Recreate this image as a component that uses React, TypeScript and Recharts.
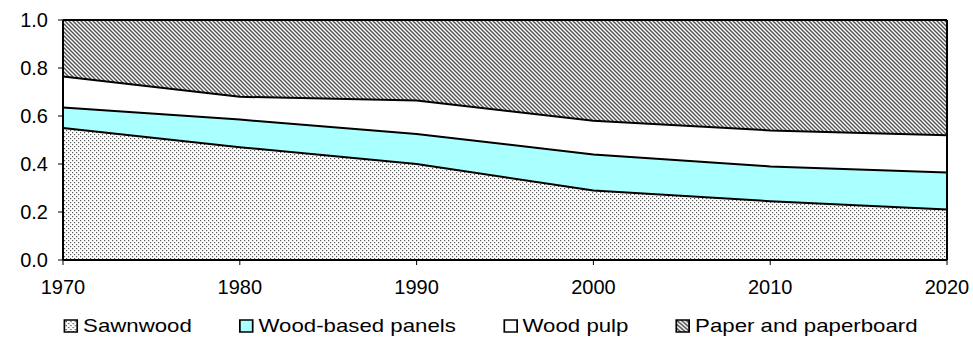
import React from "react"
import {
  AreaChart,
  Area,
  XAxis,
  YAxis,
  Legend,
  ReferenceLine,
} from "recharts"

// Share of each product in total output (stacked to 1.0)
const years = [1970, 1980, 1990, 2000, 2010, 2020]
const sawnwood = [0.55, 0.47, 0.4, 0.29, 0.245, 0.21]
const woodPanels = [0.085, 0.115, 0.125, 0.15, 0.145, 0.155]
const woodPulp = [0.13, 0.095, 0.14, 0.14, 0.15, 0.155]
const paper = [0.235, 0.32, 0.335, 0.42, 0.46, 0.48]

const xTicks = [1970, 1980, 1990, 2000, 2010, 2020]
const yTicks = [0, 0.2, 0.4, 0.6, 0.8, 1.0]

const FONT = '"Liberation Sans", Arial, sans-serif'

const SERIES = [
  { key: "sawnwood", name: "Sawnwood", fill: "url(#dots)" },
  { key: "panels", name: "Wood-based panels", fill: "#aaffff" },
  { key: "pulp", name: "Wood pulp", fill: "#ffffff" },
  { key: "paper", name: "Paper and paperboard", fill: "url(#hatch)" },
]

const data = years.map((y, i) => ({
  year: y,
  sawnwood: sawnwood[i],
  panels: woodPanels[i],
  pulp: woodPulp[i],
  paper: paper[i],
}))

function LegendRow() {
  return (
    <div
      style={{
        transform: "scaleX(1.17)",
        transformOrigin: "0 50%",
        display: "flex",
        alignItems: "center",
        paddingLeft: 54,
        fontFamily: FONT,
        fontSize: 19,
        color: "#000",
        height: 24,
      }}
    >
      {SERIES.map((s) => (
        <div key={s.key} style={{ display: "flex", alignItems: "center", marginRight: 40 }}>
          <svg width={13} height={14} style={{ marginRight: 4, display: "block" }}>
            <rect x={1} y={1} width={11} height={12} fill={s.fill} stroke="#000" strokeWidth={1.5} />
          </svg>
          <span>{s.name}</span>
        </div>
      ))}
    </div>
  )
}

export default function App() {
  return (
    <div style={{ position: "absolute", left: 0, top: 0, width: 973, height: 340, background: "#fff" }}>
      <AreaChart
        width={973}
        height={340}
        data={data}
        margin={{ top: 20, right: 26, bottom: 8, left: 0 }}
      >
        <defs>
          <pattern id="dots" width={4} height={4} patternUnits="userSpaceOnUse">
            <rect width={4} height={4} fill="#fff" />
            <rect x={0} y={0} width={1.2} height={1.2} fill="#555" />
            <rect x={2} y={2} width={1.2} height={1.2} fill="#555" />
          </pattern>
          <pattern id="hatch" width={4} height={4} patternUnits="userSpaceOnUse">
            <rect width={4} height={4} fill="#fff" />
            <path d="M-1,-1 L5,5 M-1,3 L1,5 M3,-1 L5,1" stroke="#555" strokeWidth={1.5} />
          </pattern>
        </defs>

        <XAxis
          dataKey="year"
          type="number"
          domain={[1970, 2020]}
          ticks={xTicks}
          height={32}
          tickSize={5}
          tickMargin={15}
          axisLine={{ stroke: "#000", strokeWidth: 2 }}
          tickLine={{ stroke: "#000" }}
          tick={{ fontSize: 20, fill: "#000", fontFamily: FONT }}
        />
        <YAxis
          type="number"
          domain={[0, 1]}
          ticks={yTicks}
          width={63}
          tickSize={5}
          tickMargin={10}
          tickFormatter={(v: number) => v.toFixed(1)}
          axisLine={{ stroke: "#000", strokeWidth: 2 }}
          tickLine={{ stroke: "#000" }}
          tick={{ fontSize: 20, fill: "#000", fontFamily: FONT }}
        />

        {/* fills */}
        {SERIES.map((s) => (
          <Area
            key={s.key}
            type="linear"
            dataKey={s.key}
            name={s.name}
            stackId="fill"
            fill={s.fill}
            fillOpacity={1}
            stroke="none"
            isAnimationActive={false}
          />
        ))}

        {/* black outlines on top of all fills */}
        {SERIES.map((s) => (
          <Area
            key={s.key + "-line"}
            type="linear"
            dataKey={s.key}
            stackId="line"
            fill="none"
            stroke="#000"
            strokeWidth={2}
            legendType="none"
            isAnimationActive={false}
          />
        ))}

        <ReferenceLine x={2020} stroke="#000" strokeWidth={2} />

        <Legend
          verticalAlign="bottom"
          height={40}
          content={() => <LegendRow />}
          wrapperStyle={{ left: 0, top: 314, width: 973 }}
        />
      </AreaChart>
    </div>
  )
}
